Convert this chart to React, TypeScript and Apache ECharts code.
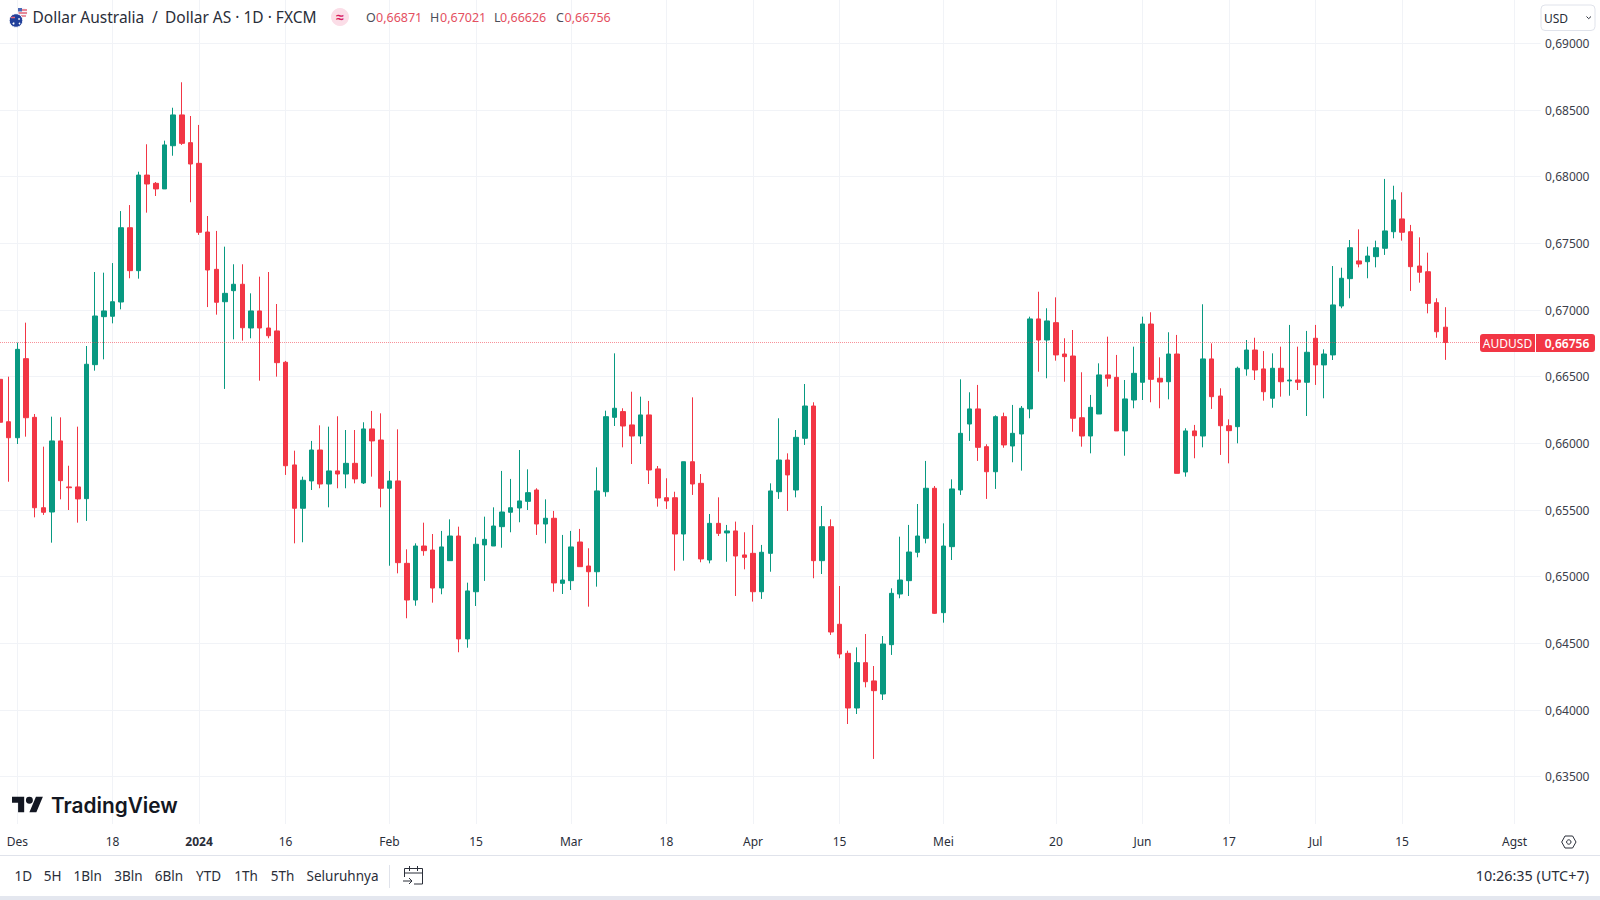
import React, { useEffect, useRef } from "react";
import * as echarts from "echarts";

// Rows are [open, high, low, close], prices in units of 0.00001.
const SCALE = 100000;
const dec23 = [
  [66480,66535,66100,66158],[66162,66500,65712,66042],[66042,66755,65995,66705],[66635,66905,66050,66192],
  [66195,66220,65445,65517],[65517,65975,65463,65483],[65485,66200,65255,66018],[66018,66195,65580,65720],
  [65673,65832,65500,65667],[65673,66125,65405,65583],[65585,66730,65418,66593],[66590,67285,66545,66955],
  [66950,67280,66630,66993],[66953,67352,66900,67062],[67060,67742,67005,67617],[67617,67787,67238,67295],
  [67295,68037,67235,68012],[68012,68243,67730,67945],[67950,67960,67855,67908],[67908,68270,67908,68238],
  [68232,68517,68157,68463],[68463,68708,68238,68250],[68255,68455,67808,68095],
];
const jan24 = [
  [68100,68388,67563,67583],[67585,67705,67022,67300],[67305,67593,66965,67058],[67062,67475,66408,67125],
  [67145,67343,66780,67193],[67193,67343,66770,66867],[66865,67125,66788,66993],[66993,67250,66470,66865],
  [66865,67285,66788,66807],[66843,67045,66500,66605],[66608,66618,65763,65832],[65838,65945,65250,65513],
  [65513,65750,65258,65723],[65718,66018,65650,65950],[65950,66135,65663,65695],[65695,66125,65520,65793],
  [65793,66203,65663,65770],[65770,66100,65663,65850],[65850,66100,65700,65733],[65703,66158,65695,66108],
  [66108,66243,65750,66018],[66025,66225,65520,65663],
];
const feb24 = [
  [65663,65793,65082,65718],[65718,66105,65025,65105],[65100,65205,64688,64825],[64825,65250,64782,65230],
  [65230,65405,65157,65195],[65200,65320,64805,64915],[64915,65343,64868,65223],[65120,65430,65120,65305],
  [65305,65375,64433,64533],[64533,64955,64467,64893],[64887,65295,64780,65243],[65238,65450,64968,65280],
  [65230,65520,65230,65380],[65375,65793,65217,65485],[65483,65733,65333,65517],[65515,65950,65408,65568],
  [65565,65805,65500,65630],[65650,65663,65313,65395],[65395,65580,65250,65438],[65438,65493,64887,64953],
  [64950,65313,64870,64975],
];
const mar24 = [
  [64970,65343,64900,65223],[65260,65358,65075,65075],[65080,65213,64775,65037],[65037,65820,64925,65643],
  [65637,66245,65600,66200],[66195,66675,66130,66263],[66238,66263,65970,66130],[66138,66387,65845,66055],
  [66055,66350,65995,66213],[66213,66318,65695,65800],[65808,65830,65525,65590],[65592,65738,65508,65568],
  [65592,65637,65045,65320],[65320,65862,65120,65862],[65862,66345,65613,65695],[65700,65770,65108,65133],
  [65125,65470,65100,65400],[65400,65595,65305,65325],[65328,65388,65112,65343],[65343,65413,64855,65155],
  [65163,65333,65055,65145],
];
const apr24 = [
  [65175,65388,64813,64887],[64887,65238,64833,65183],[65175,65700,65037,65643],[65637,66188,65583,65875],
  [65875,65925,65493,65763],[65650,66100,65595,66045],[66038,66445,65988,66280],[66280,66308,64988,65120],
  [65120,65530,65020,65375],[65375,65430,64563,64585],[64643,64930,64388,64420],[64425,64445,63895,64015],
  [64015,64470,63970,64355],[64355,64570,64170,64212],[64218,64330,63633,64145],[64120,64555,64075,64495],
  [64490,64913,64413,64875],[64870,65300,64838,64975],[64970,65388,64855,65185],[65183,65545,65145,65305],
  [65288,65868,65250,65663],[65663,65680,64720,64725],
];
const may24 = [
  [64730,65400,64655,65230],[65225,65730,65125,65658],[65650,66480,65613,66075],[66145,66383,66018,66258],
  [66258,66438,65868,65970],[65975,65993,65583,65787],[65787,66210,65658,66200],[66200,66230,65967,65988],
  [65980,66288,65858,66075],[66070,66280,65795,66263],[66258,66950,66188,66933],[66933,67137,66537,66775],
  [66775,67013,66488,66918],[66905,67095,66620,66663],[66670,66788,66462,66650],[66655,66850,66087,66188],
  [66192,66533,65975,66055],[66055,66363,65925,66270],[66220,66600,66220,66513],[66513,66800,66425,66488],
  [66495,66663,66093,66093],[66093,66475,65907,66333],[66325,66725,66263,66525],
];
const jun24 = [
  [66458,66950,66325,66895],[66895,66983,66308,66480],[66488,66645,66263,66460],[66462,66833,66330,66670],
  [66670,66813,65775,65775],[65785,66113,65750,66093],[66093,66138,65888,66057],[66055,67043,65970,66633],
  [66633,66750,66258,66350],[66355,66413,65913,66132],[66132,66180,65850,66095],[66125,66575,66000,66563],
  [66558,66775,66507,66700],[66700,66792,66475,66550],[66558,66692,66320,66387],[66338,66675,66267,66563],
  [66563,66725,66350,66462],[66468,66888,66357,66475],[66475,66725,66400,66458],[66458,66843,66205,66683],
];
const jul24 = [
  [66788,66888,66438,66588],[66588,66705,66338,66670],[66663,67330,66625,67038],[67030,67317,67013,67238],
  [67235,67525,67088,67467],[67368,67605,67320,67345],[67362,67475,67238,67405],[67400,67520,67320,67467],
  [67463,67983,67413,67593],[67587,67932,67538,67825],[67683,67883,67520,67583],[67587,67638,67143,67325],
  [67330,67545,67205,67283],[67287,67430,66975,67050],[67055,67088,66792,66837],[66871,67021,66626,66756],
];
const tickIndexes = [2, 13, 23, 33, 45, 55, 66, 77, 87, 97, 109, 122, 132, 142, 152, 162, 175];
const tickLabels = ["Des","18","2024","16","Feb","15","Mar","18","Apr","15","Mei","20","Jun","17","Jul","15","Agst"];
const rangeButtons = ["1D","5H","1Bln","3Bln","6Bln","YTD","1Th","5Th","Seluruhnya"];
const rangeCenters = [23.4,52.6,87.7,128.4,169,208.5,246,282.5,342.5];
const ohlcLegend = ["O","H","L","C"];
const ohlcValues = ["0,66871","0,67021","0,66626","0,66756"];
const LAST_CLOSE = 0.66756;
const SLOT_COUNT = 179;

const UP = "#089981";
const DOWN = "#f23645";
const GRID = "#f1f3f7";
const TEXT = "#2a2e39";
const FONT = '"Noto Sans", sans-serif';

const candles = [...dec23, ...jan24, ...feb24, ...mar24, ...apr24, ...may24, ...jun24, ...jul24];
const categories = Array.from({ length: SLOT_COUNT }, (_, i) => {
  const t = tickIndexes.indexOf(i);
  return t >= 0 ? tickLabels[t] : "";
});
const tickSet = new Set(tickIndexes);
const fmtPrice = (v: number) => v.toFixed(5).replace(".", ",");

const LOGO_D =
  "M14 22H7V11H0V4h14v18zM28 22h-8l7.5-18h8L28 22zM24 8a4 4 0 1 1-8 0 4 4 0 0 1 8 0z";
echarts.graphic.registerShape("tvlogo", echarts.graphic.extendPath(LOGO_D, {}) as any);

const txt = (
  text: string, x: number, y: number, size: number, fill: string,
  align = "left", weight: string | number = "normal", family = FONT,
) => ({
  type: "text", z: 100, silent: true, x, y,
  style: { text, fill, align, verticalAlign: "middle", font: `${weight} ${size}px ${family}` },
});
const seg = (x1: number, y1: number, x2: number, y2: number, stroke = TEXT, lineWidth = 1) => ({
  type: "line", z: 100, silent: true, shape: { x1, y1, x2, y2 }, style: { stroke, lineWidth },
});
const poly = (points: number[][], stroke = TEXT) => ({
  type: "polyline", z: 100, silent: true, shape: { points }, style: { stroke, lineWidth: 1, fill: "none" },
});

const ohlcLetterX = [366, 430, 494, 556];
const ohlcValueX = [376, 440, 500, 564.5];

const graphics: any[] = [
  // flag badge
  { type: "circle", z: 100, shape: { cx: 22.5, cy: 12.5, r: 5 }, style: { fill: "#f4f5fa" } },
  seg(18.5, 10, 27, 10, "#e0566a", 1.4),
  seg(18.5, 13, 27, 13, "#e0566a", 1.4),
  seg(19, 16, 26, 16, "#e0566a", 1.2),
  { type: "rect", z: 100, shape: { x: 18, y: 8, width: 4, height: 3.5 }, style: { fill: "#4a68b5" } },
  { type: "circle", z: 100, shape: { cx: 16, cy: 20.5, r: 6.8 }, style: { fill: "#21409a", stroke: "#fff", lineWidth: 1 } },
  seg(11, 17.5, 15, 17.5, "#e8667a", 1.5),
  { type: "circle", z: 101, shape: { cx: 13.5, cy: 23.5, r: 1 }, style: { fill: "#fff" } },
  { type: "circle", z: 101, shape: { cx: 19, cy: 19, r: 0.8 }, style: { fill: "#fff" } },
  { type: "circle", z: 101, shape: { cx: 19.5, cy: 23.5, r: 0.8 }, style: { fill: "#fff" } },
  // header
  txt("Dollar Australia", 32.5, 17, 15.5, TEXT),
  txt("/", 155, 17, 15.5, TEXT, "center"),
  txt("Dollar AS · 1D · FXCM", 165, 17, 15.5, TEXT),
  { type: "circle", z: 100, shape: { cx: 340, cy: 17, r: 9 }, style: { fill: "#fbdde7" } },
  txt("≈", 340, 16.5, 14, "#d81b60", "center", "bold"),
  ...ohlcLegend.map((l, i) => txt(l, ohlcLetterX[i], 17, 12.5, "#4a4e59")),
  ...ohlcValues.map((v, i) => txt(v, ohlcValueX[i], 17, 12.5, "#e4505f")),
  // currency selector
  { type: "rect", z: 100, shape: { x: 1541, y: 5, width: 54, height: 25.5, r: 4 }, style: { fill: "#fff", stroke: "#e0e3eb", lineWidth: 1 } },
  txt("USD", 1544, 18, 12, TEXT),
  poly([[1586.5, 16.5], [1588.7, 18.7], [1591, 16.5]]),
  // last price tag
  { type: "rect", z: 100, shape: { x: 1480, y: 334, width: 55, height: 18, r: [3, 0, 0, 3] }, style: { fill: DOWN } },
  { type: "rect", z: 100, shape: { x: 1536, y: 334, width: 59, height: 18, r: [0, 3, 3, 0] }, style: { fill: DOWN } },
  txt("AUDUSD", 1507.5, 343, 12, "#fff", "center"),
  txt(fmtPrice(LAST_CLOSE), 1567, 343, 12, "#fff", "center", 600),
  // watermark
  { type: "tvlogo", z: 100, x: 12, y: 793.2, scaleX: 0.87, scaleY: 0.87, style: { fill: "#131722" } },
  txt("TradingView", 51, 805, 20.8, "#131722", "left", 600, "Inter, sans-serif"),
  // settings icon
  { type: "polygon", z: 100, shape: { points: [[1561.7, 842], [1565, 836], [1572.6, 836], [1576, 842], [1572.6, 848], [1565, 848]] }, style: { fill: "none", stroke: TEXT, lineWidth: 1 } },
  { type: "circle", z: 100, shape: { cx: 1568.8, cy: 842, r: 2.2 }, style: { fill: "none", stroke: TEXT, lineWidth: 1 } },
  // bottom toolbar
  seg(0, 855.5, 1600, 855.5, "#e0e3eb", 1),
  ...rangeButtons.map((b, i) => txt(b, rangeCenters[i], 875.5, 13.5, TEXT, "center")),
  seg(389.5, 865, 389.5, 888, "#e0e3eb", 1),
  poly([[404.5, 877], [404.5, 868.5], [422.5, 868.5], [422.5, 884], [414, 884]]),
  seg(404.5, 873, 422.5, 873),
  seg(409.5, 866, 409.5, 871),
  seg(417.5, 866, 417.5, 871),
  seg(403, 881, 412, 881),
  poly([[409, 878], [412, 881], [409, 884]]),
  txt("10:26:35 (UTC+7)", 1589, 875.5, 14.4, TEXT, "right"),
  { type: "rect", z: 100, shape: { x: 0, y: 896, width: 1600, height: 4 }, style: { fill: "#e4e7ef" } },
];

export default function App() {
  const ref = useRef<HTMLDivElement>(null);
  useEffect(() => {
    const chart = echarts.init(ref.current!, undefined, { renderer: "svg" });
    chart.setOption({
      animation: false,
      backgroundColor: "#ffffff",
      grid: { left: -1.8, top: 0, width: (SLOT_COUNT - 1) * 8.665, height: 824, containLabel: false },
      xAxis: {
        type: "category",
        data: categories,
        boundaryGap: false,
        axisLine: { show: false },
        axisTick: { show: false },
        splitLine: {
          show: true,
          interval: (i: number) => tickSet.has(i),
          lineStyle: { color: GRID, width: 1 },
        },
        axisLabel: {
          interval: (i: number) => tickSet.has(i),
          margin: 11,
          fontSize: 12,
          fontFamily: FONT,
          color: TEXT,
          formatter: (v: string) => (v === "2024" ? "{b|2024}" : v),
          rich: { b: { fontWeight: "bold", fontSize: 12, fontFamily: FONT, color: TEXT } },
        },
      },
      yAxis: {
        type: "value",
        position: "right",
        scale: true,
        min: 0.63145,
        max: 0.69325,
        minInterval: 0.005,
        maxInterval: 0.005,
        splitNumber: 12,
        axisLine: { show: false },
        axisTick: { show: false },
        splitLine: {
          show: true,
          showMinLine: false,
          showMaxLine: false,
          lineStyle: { color: GRID, width: 1 },
        },
        axisLabel: {
          margin: 4.5,
          fontSize: 12,
          fontFamily: FONT,
          color: "#3c404b",
          padding: [0, 0, 2, 0],
          showMinLabel: false,
          showMaxLabel: false,
          formatter: fmtPrice,
        },
      },
      series: [
        {
          type: "candlestick",
          barWidth: 5,
          data: candles.map(([o, h, l, c]) => [o / SCALE, c / SCALE, l / SCALE, h / SCALE]),
          itemStyle: { color: UP, color0: DOWN, borderColor: UP, borderColor0: DOWN, borderWidth: 1 },
          markLine: {
            silent: true,
            precision: 5,
            symbol: ["none", "none"],
            label: { show: false },
            lineStyle: { type: "dotted", color: DOWN, width: 1, opacity: 0.55 },
            data: [{ yAxis: LAST_CLOSE }],
          },
        },
      ],
      graphic: { elements: graphics },
    });
    return () => chart.dispose();
  }, []);
  return <div ref={ref} style={{ position: "fixed", left: 0, top: 0, width: 1600, height: 900, background: "#fff" }} />;
}
